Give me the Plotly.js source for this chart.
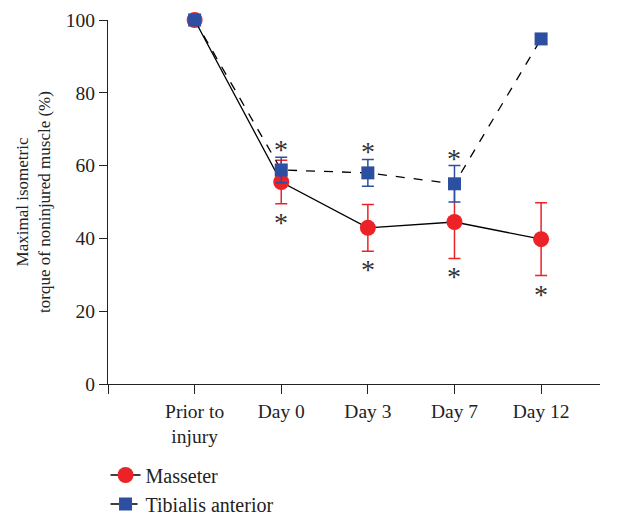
<!DOCTYPE html>
<html><head><meta charset="utf-8">
<script src="https://cdn.plot.ly/plotly-3.0.1.min.js"></script>
<style>html,body{margin:0;padding:0;background:#fff}#c{width:627px;height:517px}</style>
</head><body><div id="c"></div>
<script>
const categories = ['Prior to<br>injury', 'Day 0', 'Day 3', 'Day 7', 'Day 12'];
const xPos = [1, 2, 3, 4, 5];
const masseter = [100, 55.5, 42.9, 44.5, 39.8];
const masseterErr = [0, 6, 6.4, 10, 10];
const tibialis = [100, 58.8, 58, 55, 94.8];
const tibialisErr = [0, 3.5, 3.7, 5, 1.3];
const masseterStar = [false, true, true, true, true];
const tibialisStar = [false, true, true, true, false];

const serif = 'Liberation Serif, Times New Roman, serif';
const red = '#ED2227';
const blue = '#2D4FA1';

const traces = [
  {x: xPos, y: masseter, name: 'Masseter', type: 'scatter', mode: 'lines+markers',
   line: {color: '#000', width: 1.3, dash: 'solid'},
   marker: {color: red, size: 16, symbol: 'circle'},
   error_y: {type: 'data', array: masseterErr, visible: true, color: red, thickness: 1.5, width: 6},
   cliponaxis: false},
  {x: xPos, y: tibialis, name: 'Tibialis anterior', type: 'scatter', mode: 'lines+markers',
   line: {color: '#000', width: 1.3, dash: 'dash'},
   marker: {color: blue, size: 13, symbol: 'square'},
   error_y: {type: 'data', array: tibialisErr, visible: true, color: blue, thickness: 1.5, width: 6},
   cliponaxis: false}
];

const annotations = [];
xPos.forEach((x, i) => {
  if (tibialisStar[i]) annotations.push({x: x, y: tibialis[i] + tibialisErr[i], xref: 'x', yref: 'y',
    text: '*', showarrow: false, yanchor: 'bottom', yshift: -10, font: {family: serif, size: 28, color: '#333'}});
  if (masseterStar[i]) annotations.push({x: x, y: masseter[i] - masseterErr[i], xref: 'x', yref: 'y',
    text: '*', showarrow: false, yanchor: 'top', yshift: -1, font: {family: serif, size: 28, color: '#333'}});
});

const layout = {
  width: 627, height: 517,
  margin: {l: 108, r: 27, t: 20, b: 133},
  paper_bgcolor: '#fff', plot_bgcolor: '#fff',
  font: {family: serif, size: 19.5, color: '#222'},
  showlegend: true,
  legend: {xref: 'paper', yref: 'container', x: -0.005, xanchor: 'left', y: 0.119, yanchor: 'top', orientation: 'v',
    font: {family: serif, size: 20, color: '#222'}, tracegroupgap: 0, itemwidth: 30},
  xaxis: {range: [0, 5.68], tickmode: 'array', tickvals: [0].concat(xPos), ticktext: [''].concat(categories),
    showline: true, linecolor: '#222', linewidth: 1.2, ticks: 'outside', ticklen: 9, tickcolor: '#222',
    showgrid: false, zeroline: false, tickfont: {family: serif, size: 19.5, color: '#222'}},
  yaxis: {range: [0, 100], tickvals: [0, 20, 40, 60, 80, 100],
    showline: true, linecolor: '#222', linewidth: 1.2, ticks: 'outside', ticklen: 8, tickcolor: '#222',
    showgrid: false, zeroline: false, tickfont: {family: serif, size: 19.5, color: '#222'},
    title: {text: 'Maximal isometric<br>torque of noninjured muscle (%)', font: {family: serif, size: 17, color: '#222'}, standoff: 10}},
  annotations: annotations
};

Plotly.newPlot('c', traces, layout, {displayModeBar: false, staticPlot: true});
</script>
</body></html>
